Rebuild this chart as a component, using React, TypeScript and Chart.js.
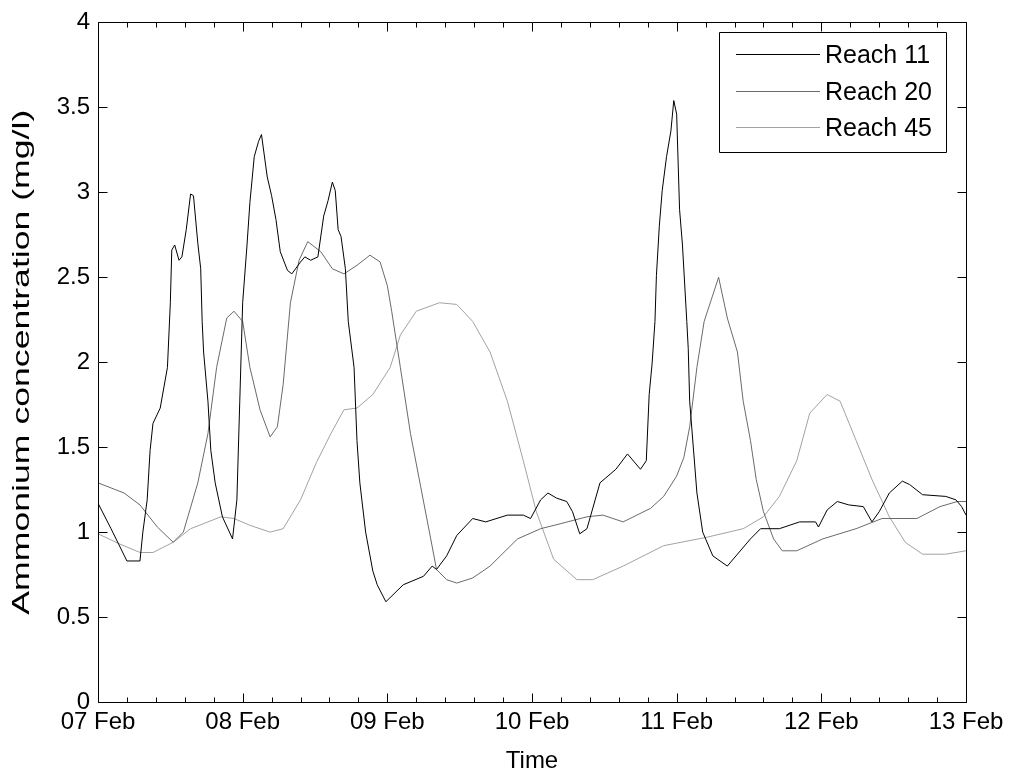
import React, { useEffect, useRef } from "react";
import { Chart, registerables } from "chart.js";

Chart.register(...registerables);

const xTickLabels = ["07 Feb", "08 Feb", "09 Feb", "10 Feb", "11 Feb", "12 Feb", "13 Feb"];
const seriesNames = ["Reach 11", "Reach 20", "Reach 45"];
const yTitle = "Ammonium concentration (mg/l)";
const xTitle = "Time";

// time in days since 07 Feb 00:00
const reach11X = [0, 0.09, 0.2, 0.29, 0.31, 0.34, 0.36, 0.38, 0.43, 0.48, 0.5, 0.51, 0.53, 0.56, 0.58, 0.61, 0.64, 0.66, 0.69, 0.71, 0.72, 0.73, 0.76, 0.78, 0.81, 0.86, 0.93, 0.96, 0.98, 1.0, 1.03, 1.05, 1.08, 1.11, 1.13, 1.17, 1.2, 1.23, 1.26, 1.31, 1.34, 1.4, 1.43, 1.47, 1.52, 1.56, 1.59, 1.62, 1.64, 1.66, 1.68, 1.71, 1.73, 1.77, 1.79, 1.81, 1.85, 1.9, 1.93, 1.99, 2.11, 2.25, 2.31, 2.34, 2.41, 2.48, 2.59, 2.68, 2.83, 2.94, 2.99, 3.06, 3.11, 3.17, 3.24, 3.28, 3.33, 3.38, 3.47, 3.58, 3.66, 3.75, 3.79, 3.81, 3.83, 3.85, 3.86, 3.88, 3.9, 3.93, 3.96, 3.98, 4.0, 4.02, 4.04, 4.07, 4.08, 4.09, 4.14, 4.18, 4.25, 4.35, 4.51, 4.58, 4.71, 4.85, 4.96, 4.98, 5.04, 5.11, 5.19, 5.29, 5.35, 5.4, 5.47, 5.56, 5.61, 5.7, 5.86, 5.93, 5.97, 6.0];
const reach11Y = [1.17, 1.02, 0.83, 0.83, 1.0, 1.19, 1.48, 1.64, 1.73, 1.97, 2.35, 2.66, 2.69, 2.6, 2.62, 2.78, 2.99, 2.98, 2.7, 2.55, 2.24, 2.06, 1.77, 1.48, 1.29, 1.09, 0.96, 1.19, 1.77, 2.35, 2.69, 2.94, 3.21, 3.3, 3.34, 3.09, 2.98, 2.84, 2.65, 2.54, 2.52, 2.59, 2.62, 2.6, 2.62, 2.86, 2.95, 3.06, 3.01, 2.78, 2.74, 2.55, 2.24, 1.97, 1.54, 1.29, 1.0, 0.77, 0.69, 0.59, 0.69, 0.74, 0.8, 0.78, 0.86, 0.98, 1.08, 1.06, 1.1, 1.1, 1.08, 1.19, 1.23, 1.2, 1.18, 1.12, 0.99, 1.02, 1.29, 1.37, 1.46, 1.37, 1.42, 1.81, 1.99, 2.24, 2.51, 2.8, 3.01, 3.21, 3.36, 3.54, 3.46, 2.9, 2.69, 2.24, 2.08, 1.77, 1.23, 1.0, 0.86, 0.8, 0.96, 1.02, 1.02, 1.06, 1.06, 1.03, 1.13, 1.18, 1.16, 1.15, 1.06, 1.12, 1.23, 1.3, 1.28, 1.22, 1.21, 1.19, 1.15, 1.1];

const reach20X = [0, 0.18, 0.29, 0.41, 0.52, 0.59, 0.69, 0.76, 0.82, 0.89, 0.94, 1.0, 1.05, 1.12, 1.19, 1.24, 1.28, 1.33, 1.39, 1.45, 1.54, 1.62, 1.7, 1.79, 1.88, 1.95, 2.0, 2.03, 2.09, 2.16, 2.23, 2.3, 2.34, 2.41, 2.48, 2.59, 2.71, 2.9, 3.06, 3.2, 3.38, 3.49, 3.63, 3.82, 3.91, 4.0, 4.05, 4.09, 4.14, 4.19, 4.29, 4.35, 4.42, 4.46, 4.51, 4.55, 4.6, 4.67, 4.73, 4.83, 5.01, 5.24, 5.42, 5.66, 5.82, 5.94, 6.0];
const reach20Y = [1.29, 1.23, 1.16, 1.03, 0.94, 1.0, 1.29, 1.58, 1.97, 2.26, 2.3, 2.24, 1.97, 1.72, 1.56, 1.62, 1.87, 2.35, 2.6, 2.71, 2.65, 2.55, 2.52, 2.57, 2.63, 2.59, 2.45, 2.3, 1.97, 1.58, 1.27, 0.96, 0.78, 0.72, 0.7, 0.73, 0.8, 0.96, 1.02, 1.05, 1.09, 1.1, 1.06, 1.14, 1.21, 1.33, 1.44, 1.62, 1.97, 2.24, 2.5, 2.26, 2.06, 1.77, 1.54, 1.31, 1.12, 0.96, 0.89, 0.89, 0.96, 1.02, 1.08, 1.08, 1.15, 1.18, 1.18];

const reach45X = [0, 0.15, 0.29, 0.38, 0.52, 0.64, 0.85, 0.94, 1.05, 1.19, 1.28, 1.4, 1.51, 1.61, 1.7, 1.79, 1.9, 2.02, 2.09, 2.2, 2.36, 2.48, 2.59, 2.71, 2.83, 2.94, 3.03, 3.15, 3.31, 3.42, 3.63, 3.91, 4.21, 4.46, 4.6, 4.71, 4.83, 4.92, 5.04, 5.13, 5.24, 5.35, 5.47, 5.58, 5.7, 5.86, 6.0];
const reach45Y = [0.99, 0.93, 0.88, 0.88, 0.94, 1.02, 1.09, 1.08, 1.04, 1.0, 1.02, 1.19, 1.41, 1.58, 1.72, 1.73, 1.81, 1.97, 2.16, 2.3, 2.35, 2.34, 2.24, 2.06, 1.77, 1.42, 1.12, 0.84, 0.72, 0.72, 0.8, 0.92, 0.97, 1.02, 1.09, 1.21, 1.42, 1.7, 1.81, 1.77, 1.54, 1.31, 1.09, 0.94, 0.87, 0.87, 0.89];

const seriesColors = ["#000000", "#6a6a6a", "#a2a2a2"];
const FONT = "'Liberation Sans', Arial, sans-serif";

const toPoints = (xs: number[], ys: number[]) => xs.map((x, i) => ({ x, y: ys[i] }));

const framePlugin = {
  id: "matlabFrame",
  afterDraw(chart: any) {
    const { ctx, chartArea, scales } = chart;
    const { left, right, top, bottom } = chartArea;
    const xs = scales.x;
    const ys = scales.y;
    const L = Math.round(left) + 0.5;
    const R = Math.round(right) + 0.5;
    const T = Math.round(top) + 0.5;
    const B = Math.round(bottom) + 0.5;
    ctx.save();
    ctx.strokeStyle = "#000";
    ctx.lineWidth = 1;
    ctx.beginPath();
    ctx.rect(L, T, R - L, B - T);
    ctx.stroke();
    // x ticks (major each day, minor each 0.2 day), inward, top and bottom
    ctx.beginPath();
    for (let i = 0; i <= 30; i++) {
      const px = Math.round(xs.getPixelForValue(i / 5)) + 0.5;
      const len = i % 5 === 0 ? 9 : 5;
      ctx.moveTo(px, B);
      ctx.lineTo(px, B - len);
      ctx.moveTo(px, T);
      ctx.lineTo(px, T + len);
    }
    for (let i = 0; i <= 8; i++) {
      const py = Math.round(ys.getPixelForValue(i / 2)) + 0.5;
      ctx.moveTo(L, py);
      ctx.lineTo(L + 9, py);
      ctx.moveTo(R, py);
      ctx.lineTo(R - 9, py);
    }
    ctx.stroke();

    // y axis title (stretched along its length like the original export)
    ctx.save();
    ctx.font = `24px ${FONT}`;
    ctx.fillStyle = "#000";
    ctx.textAlign = "center";
    ctx.textBaseline = "middle";
    const tw = ctx.measureText(yTitle).width;
    const targetLen = 505;
    ctx.translate(22, (top + bottom) / 2);
    ctx.rotate(-Math.PI / 2);
    ctx.scale(targetLen / tw, 1);
    ctx.fillText(yTitle, 0, 0);
    ctx.restore();

    // legend
    const bx = 719.5, by = 32.5, bw = 227, bh = 120;
    ctx.fillStyle = "#fff";
    ctx.fillRect(bx, by, bw, bh);
    ctx.beginPath();
    ctx.rect(bx, by, bw, bh);
    ctx.stroke();
    const rowY = [54, 91, 127];
    ctx.font = `25px ${FONT}`;
    ctx.textBaseline = "middle";
    ctx.textAlign = "left";
    seriesNames.forEach((name, i) => {
      ctx.strokeStyle = seriesColors[i];
      ctx.beginPath();
      ctx.moveTo(736, rowY[i] + 0.5);
      ctx.lineTo(820, rowY[i] + 0.5);
      ctx.stroke();
      ctx.fillStyle = "#000";
      ctx.fillText(name, 825, rowY[i] + 2);
    });
    ctx.restore();
  },
};

export default function App() {
  const canvasRef = useRef<HTMLCanvasElement | null>(null);

  useEffect(() => {
    if (!canvasRef.current) return;
    const chart = new Chart(canvasRef.current, {
      type: "line",
      data: {
        datasets: [
          { label: seriesNames[0], data: toPoints(reach11X, reach11Y), borderColor: seriesColors[0], borderWidth: 1, pointRadius: 0, tension: 0 },
          { label: seriesNames[1], data: toPoints(reach20X, reach20Y), borderColor: seriesColors[1], borderWidth: 1, pointRadius: 0, tension: 0 },
          { label: seriesNames[2], data: toPoints(reach45X, reach45Y), borderColor: seriesColors[2], borderWidth: 1, pointRadius: 0, tension: 0 },
        ],
      },
      options: {
        responsive: false,
        animation: false,
        devicePixelRatio: 1,
        layout: { padding: { left: 0, top: 17, right: 47, bottom: 0 } },
        plugins: { legend: { display: false }, tooltip: { enabled: false } },
        scales: {
          x: {
            type: "linear",
            min: 0,
            max: 6,
            grid: { display: false, drawTicks: false },
            border: { display: false },
            ticks: {
              stepSize: 1,
              autoSkip: false,
              maxRotation: 0,
              padding: 6,
              color: "#000",
              font: { family: FONT, size: 24 },
              callback: (v: any) => xTickLabels[Math.round(Number(v))] ?? "",
            },
            title: { display: true, text: xTitle, color: "#000", font: { family: FONT, size: 24 }, padding: { top: 0, bottom: 0 } },
            afterFit: (s: any) => { s.height = 74; },
          },
          y: {
            min: 0,
            max: 4,
            grid: { display: false, drawTicks: false },
            border: { display: false },
            ticks: {
              stepSize: 0.5,
              padding: 8,
              color: "#000",
              font: { family: FONT, size: 24 },
              callback: (v: any) => String(Math.round(Number(v) * 10) / 10),
            },
            title: { display: false },
            afterFit: (s: any) => { s.width = 98; },
          },
        },
      },
      plugins: [framePlugin],
    });
    return () => chart.destroy();
  }, []);

  return (
    <div style={{ position: "absolute", left: 0, top: 0, width: 1013, height: 776, background: "#fff" }}>
      <canvas ref={canvasRef} width={1013} height={776} />
    </div>
  );
}
